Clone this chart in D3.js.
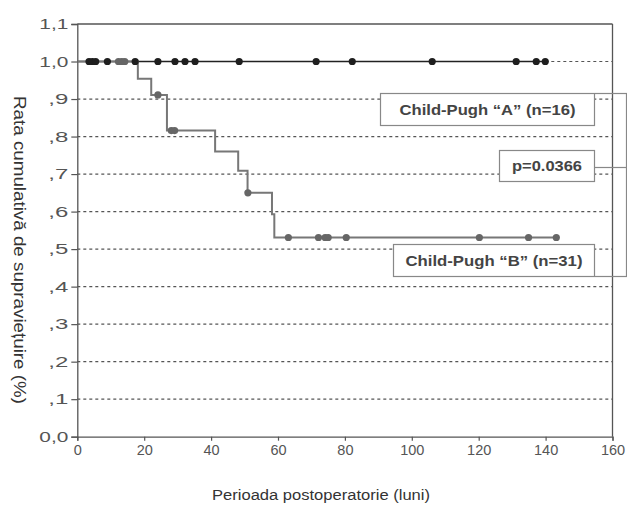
<!DOCTYPE html>
<html>
<head>
<meta charset="utf-8">
<script src="https://cdn.jsdelivr.net/npm/d3@7"></script>
<style>
  html, body { margin: 0; padding: 0; background: #fff; }
  svg { display: block; font-family: "Liberation Sans", Arial, sans-serif; }
</style>
</head>
<body>
<svg id="chart" width="627" height="505"></svg>
<script>
// ---------- data ----------
const xTicks = [0, 20, 40, 60, 80, 100, 120, 140, 160];
const yTicks = [0, 0.1, 0.2, 0.3, 0.4, 0.5, 0.6, 0.7, 0.8, 0.9, 1.0, 1.1];
const yTickLabels = ["0,0", ",1", ",2", ",3", ",4", ",5", ",6", ",7", ",8", ",9", "1,0", "1,1"];

// Child-Pugh A: no events, survival stays 1.0 up to last follow-up
const groupALineTimes = [0, 139.9];
const groupALineValues = [1.0, 1.0];
const groupACensorTimes = [3.5, 4.5, 5.5, 9.0, 17.3, 24.1, 29.2, 32.2, 35.2, 48.4, 71.4, 82.2, 106.1, 131.2, 137.2, 139.9];

// Child-Pugh B: Kaplan-Meier step curve
const groupBStepTimes = [0, 18.1, 22.1, 26.8, 41.2, 48.1, 50.9, 58.2, 58.9, 143.2];
const groupBStepValues = [1.0, 0.954, 0.911, 0.816, 0.760, 0.709, 0.650, 0.593, 0.531, 0.531];
const groupBCensorTimes = [12.3, 13.3, 14.2, 24.1, 28.1, 29.1, 51.0, 63.1, 72.1, 74.1, 75.0, 80.4, 120.2, 134.9, 143.2];

const labelA = "Child-Pugh \u201CA\u201D (n=16)";
const labelB = "Child-Pugh \u201CB\u201D (n=31)";
const labelP = "p=0.0366";
const xTitle = "Perioada postoperatorie (luni)";
const yTitle = "Rata cumulativă de supraviețuire (%)";

// ---------- layout ----------
const svg = d3.select("#chart");
const mLeft = 77.3, mRight = 612.5, mTop = 24, mBottom = 436.7;
const x = d3.scaleLinear().domain([0, 160]).range([mLeft, mRight]);
const y = d3.scaleLinear().domain([0, 1.1]).range([mBottom, mTop]);

const gridColor = "#555";
const axisColor = "#555";
const textColor = "#555";

// grid lines (dashed)
svg.append("g").selectAll("line")
  .data(yTicks.filter(v => v > 0 && v < 1.05))
  .join("line")
  .attr("x1", mLeft).attr("x2", mRight)
  .attr("y1", d => y(d)).attr("y2", d => y(d))
  .attr("stroke", gridColor).attr("stroke-width", 1.2)
  .attr("stroke-dasharray", "3,3");

// frame top and right
svg.append("line").attr("x1", mLeft).attr("x2", mRight).attr("y1", y(1.1)).attr("y2", y(1.1))
  .attr("stroke", axisColor).attr("stroke-width", 1.3);
svg.append("line").attr("x1", mRight).attr("x2", mRight).attr("y1", y(1.1)).attr("y2", y(0))
  .attr("stroke", axisColor).attr("stroke-width", 1.3);

// axes
const yAxis = d3.axisLeft(y).tickValues(yTicks).tickSize(6).tickPadding(3)
  .tickFormat((d, i) => yTickLabels[i]);
const gy = svg.append("g").attr("transform", `translate(${mLeft},0)`).call(yAxis);
const xAxis = d3.axisBottom(x).tickValues(xTicks).tickSize(4).tickPadding(4);
const gx = svg.append("g").attr("transform", `translate(0,${mBottom})`).call(xAxis);
[gy, gx].forEach(g => {
  g.select(".domain").attr("stroke", axisColor).attr("stroke-width", 1.3);
  g.selectAll(".tick line").attr("stroke", axisColor).attr("stroke-width", 1.2);
  g.selectAll(".tick text").attr("fill", textColor)
    .style("font-family", "'Liberation Sans', Arial, sans-serif").style("font-size", "14px");
});
gy.selectAll(".tick text")
  .attr("textLength", (d, i) => yTickLabels[i].length === 3 ? 29 : 20)
  .attr("lengthAdjust", "spacingAndGlyphs");
gx.selectAll(".tick text").style("font-size", "14.5px");

// annotation boxes
function box(x0, y0, w, h, text, len) {
  svg.append("rect").attr("x", x0).attr("y", y0).attr("width", w).attr("height", h)
    .attr("fill", "#fff").attr("stroke", "#888").attr("stroke-width", 1.2);
  svg.append("text").attr("x", x0 + w / 2).attr("y", y0 + h / 2).attr("dy", "0.36em")
    .attr("text-anchor", "middle").attr("fill", "#444")
    .attr("textLength", len).attr("lengthAdjust", "spacingAndGlyphs")
    .style("font-weight", "bold").style("font-size", "15px").text(text);
}
box(380.5, 93.5, 214, 32, labelA, 176);
box(499.5, 150.5, 95, 31, labelP, 70);
box(393.5, 244.5, 201, 32, labelB, 177);

// bracket on the right
const br = svg.append("g").attr("stroke", "#888").attr("stroke-width", 1.2);
br.append("line").attr("x1", 595).attr("x2", 627).attr("y1", 93.5).attr("y2", 93.5);
br.append("line").attr("x1", 595).attr("x2", 627).attr("y1", 167.5).attr("y2", 167.5);
br.append("line").attr("x1", 595).attr("x2", 627).attr("y1", 276.5).attr("y2", 276.5);
br.append("line").attr("x1", 626.5).attr("x2", 626.5).attr("y1", 93.5).attr("y2", 276.5);

// curves
const line = d3.line().x(d => x(d[0])).y(d => y(d[1])).curve(d3.curveStepAfter);
const bPts = groupBStepTimes.map((t, i) => [t, groupBStepValues[i]]);
const aPts = groupALineTimes.map((t, i) => [t, groupALineValues[i]]);

svg.append("path").datum(aPts).attr("d", line).attr("fill", "none")
  .attr("stroke", "#222").attr("stroke-width", 1.5);
svg.append("path").datum(bPts).attr("d", line).attr("fill", "none")
  .attr("stroke", "#777").attr("stroke-width", 2);

function survB(t) {
  const i = d3.bisectRight(groupBStepTimes, t) - 1;
  return groupBStepValues[Math.max(0, i)];
}

svg.append("g").selectAll("circle").data(groupBCensorTimes).join("circle")
  .attr("cx", d => x(d)).attr("cy", d => y(survB(d))).attr("r", 3.6)
  .attr("fill", "#666");
svg.append("g").selectAll("circle").data(groupACensorTimes).join("circle")
  .attr("cx", d => x(d)).attr("cy", y(1.0)).attr("r", 3.6)
  .attr("fill", "#1e1e1e");

// titles
svg.append("text").attr("x", 321).attr("y", 500).attr("text-anchor", "middle")
  .attr("fill", "#333").attr("textLength", 218).attr("lengthAdjust", "spacingAndGlyphs")
  .style("font-size", "15.5px").text(xTitle);
svg.append("text").attr("transform", "translate(14,250) rotate(90)")
  .attr("text-anchor", "middle").attr("fill", "#333")
  .attr("textLength", 308).attr("lengthAdjust", "spacingAndGlyphs")
  .style("font-size", "16px").text(yTitle);
</script>
</body>
</html>
